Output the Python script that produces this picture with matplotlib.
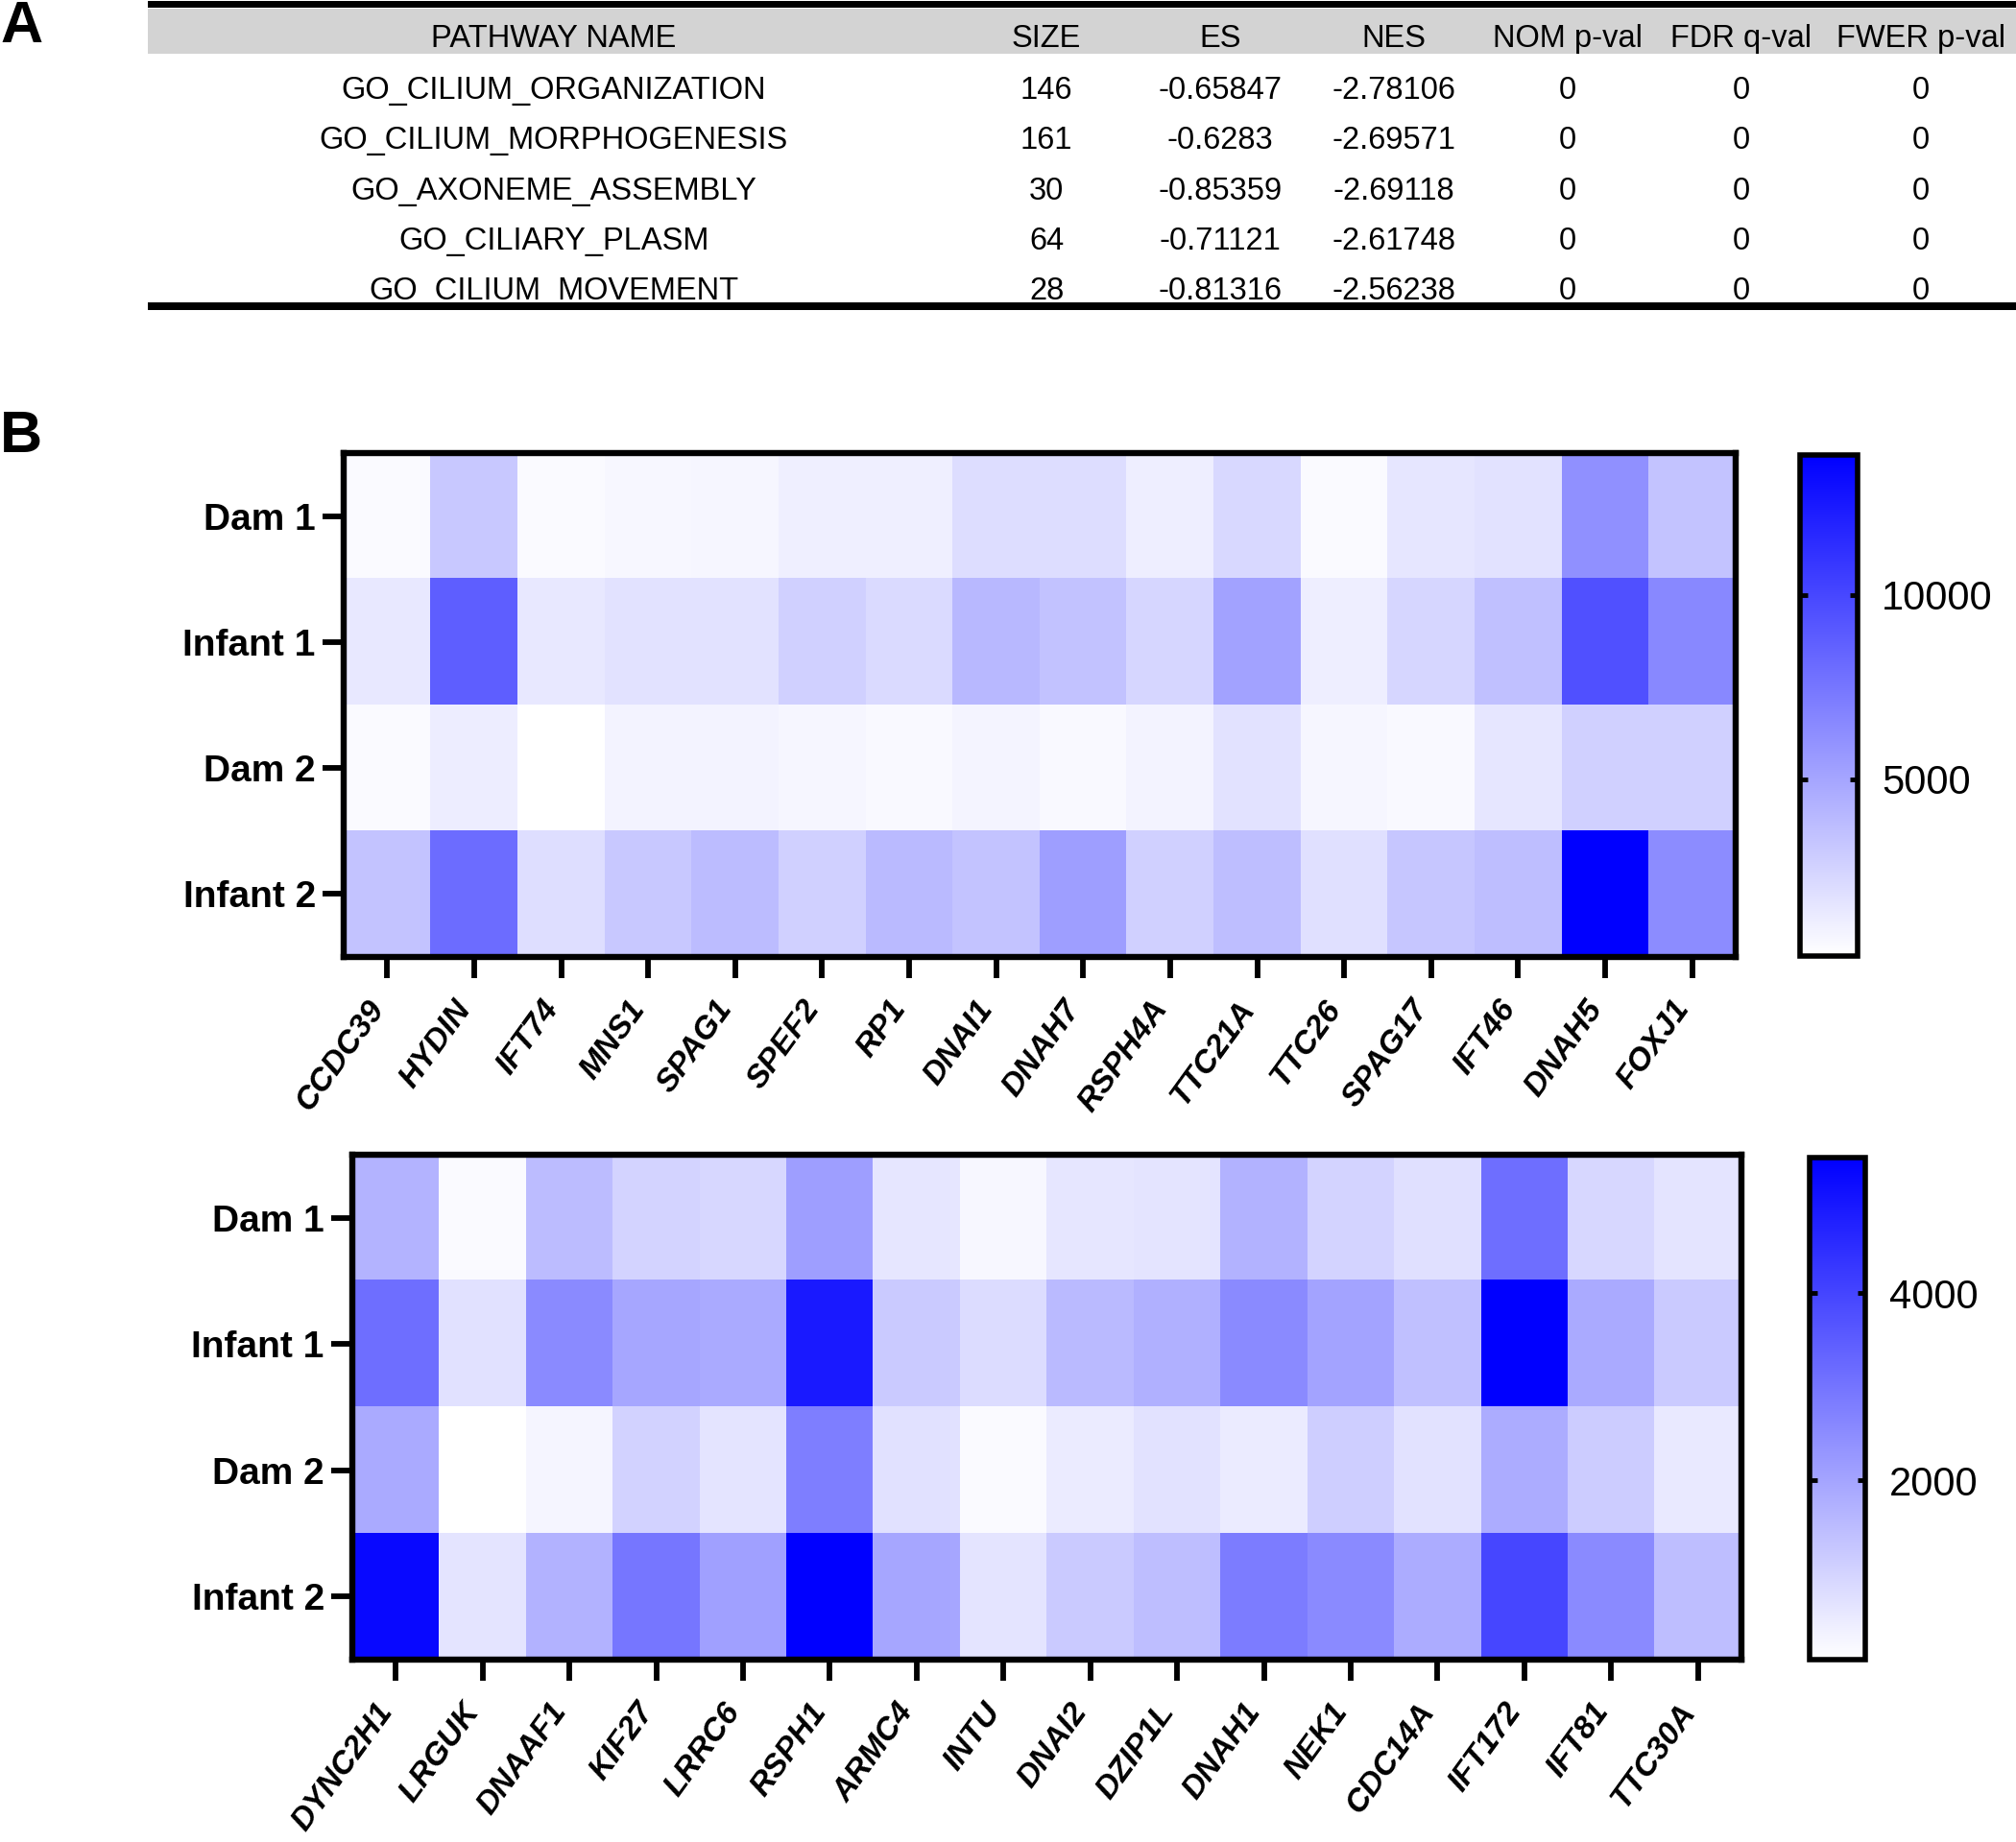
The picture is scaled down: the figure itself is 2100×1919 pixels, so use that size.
import numpy as np
import matplotlib
matplotlib.use("Agg")
import matplotlib.pyplot as plt
from matplotlib.colors import LinearSegmentedColormap
from matplotlib.patches import Rectangle
import matplotlib.transforms as mtransforms

plt.rcParams['font.family'] = ['Liberation Sans', 'DejaVu Sans']

# ---------------- data ----------------
table_headers = ["PATHWAY NAME", "SIZE", "ES", "NES", "NOM p-val", "FDR q-val", "FWER p-val"]
pathways = ["GO_CILIUM_ORGANIZATION", "GO_CILIUM_MORPHOGENESIS", "GO_AXONEME_ASSEMBLY",
            "GO_CILIARY_PLASM", "GO_CILIUM_MOVEMENT"]
sizes = ["146", "161", "30", "64", "28"]
es_vals = ["-0.65847", "-0.6283", "-0.85359", "-0.71121", "-0.81316"]
nes_vals = ["-2.78106", "-2.69571", "-2.69118", "-2.61748", "-2.56238"]
nom_p = ["0", "0", "0", "0", "0"]
fdr_q = ["0", "0", "0", "0", "0"]
fwer_p = ["0", "0", "0", "0", "0"]

samples = ["Dam 1", "Infant 1", "Dam 2", "Infant 2"]

genes_top = ["CCDC39", "HYDIN", "IFT74", "MNS1", "SPAG1", "SPEF2", "RP1", "DNAI1",
             "DNAH7", "RSPH4A", "TTC21A", "TTC26", "SPAG17", "IFT46", "DNAH5", "FOXJ1"]
top_dam1 = [470, 3130, 470, 630, 730, 1050, 1050, 2010, 2010, 1110, 2280, 470, 1530, 1750, 6120, 3350]
top_inf1 = [1430, 8790, 1430, 1750, 1750, 2710, 2170, 3990, 3450, 2390, 5160, 1110, 2390, 3560, 9530, 6550]
top_dam2 = [470, 1160, 250, 890, 890, 730, 520, 790, 520, 890, 1750, 730, 520, 1530, 2710, 2710]
top_inf2 = [3350, 8040, 1960, 3130, 3770, 2710, 3880, 3350, 5370, 2710, 3670, 1850, 3240, 3670, 13800, 6330]
top_range = (200, 13800)
top_cticks = [5000, 10000]

genes_bot = ["DYNC2H1", "LRGUK", "DNAAF1", "KIF27", "LRRC6", "RSPH1", "ARMC4", "INTU",
             "DNAI2", "DZIP1L", "DNAH1", "NEK1", "CDC14A", "IFT172", "IFT81", "TTC30A"]
bot_dam1 = [1660, 190, 1490, 990, 940, 2120, 610, 250, 610, 650, 1700, 990, 750, 3130, 940, 650]
bot_inf1 = [3135, 730, 2540, 1950, 1870, 4900, 1200, 820, 1540, 1740, 2540, 2000, 1410, 5450, 1870, 1200]
bot_dam2 = [1870, 80, 310, 1030, 650, 2800, 730, 185, 520, 690, 520, 1110, 690, 1830, 1150, 560]
bot_inf2 = [5280, 650, 1700, 2960, 2080, 5450, 1950, 650, 1200, 1450, 2840, 2540, 1830, 3980, 2540, 1450]
bot_range = (80, 5450)
bot_cticks = [2000, 4000]

# ---------------- figure ----------------
W, H = 2100, 1919
fig = plt.figure(figsize=(W / 100, H / 100), dpi=100)


def box(x0, y0, x1, y1):
    return [x0 / W, 1 - y1 / H, (x1 - x0) / W, (y1 - y0) / H]


cmap = LinearSegmentedColormap.from_list("wb", ["#FFFFFF", "#0000FF"])

# ---------- Panel A: table ----------
axt = fig.add_axes([0, 0, 1, 1])
axt.set_xlim(0, W)
axt.set_ylim(H, 0)
axt.axis("off")

axt.add_patch(Rectangle((154, 9), W - 154, 47, facecolor="#D3D3D3", edgecolor="none", zorder=1))
axt.add_patch(Rectangle((154, 0.5), W - 154, 7.5, facecolor="black", edgecolor="none", zorder=5))
axt.add_patch(Rectangle((154, 315), W - 154, 8, facecolor="black", edgecolor="none", zorder=5))

col_x = [577, 1090, 1271, 1452, 1633, 1814, 2001]
header_y = 40
row_y = [94, 146, 199, 251, 303]
tfs = 23.5
for cx, h in zip(col_x, table_headers):
    axt.text(cx, header_y, h, ha="center", va="center", fontsize=tfs, zorder=3)
columns = [pathways, sizes, es_vals, nes_vals, nom_p, fdr_q, fwer_p]
for cx, col in zip(col_x, columns):
    for ry, val in zip(row_y, col):
        axt.text(cx, ry, val, ha="center", va="center", fontsize=tfs, zorder=3)

axt.text(0, 28, "A", ha="left", va="center", fontsize=44, fontweight="bold")
axt.text(0, 455, "B", ha="left", va="center", fontsize=44, fontweight="bold")


# ---------- Panel B: heatmaps ----------
def heatmap(rect, crect, rows, genes, vrange, cticks):
    data = np.array(rows, dtype=float)
    ax = fig.add_axes(box(*rect))
    im = ax.imshow(data, cmap=cmap, vmin=vrange[0], vmax=vrange[1], aspect="auto",
                   interpolation="nearest")
    for sp in ax.spines.values():
        sp.set_linewidth(4.6)
    ax.set_yticks(range(len(samples)))
    ax.set_yticklabels(samples, fontsize=28, fontweight="bold")
    ax.set_xticks(range(len(genes)))
    ax.set_xticklabels(genes, fontsize=24, fontweight="bold", fontstyle="italic",
                       rotation=54, ha="right", va="center", rotation_mode="anchor")
    ax.tick_params(axis="both", length=16, width=4.2, color="black")
    ax.tick_params(axis="y", pad=5)
    ax.tick_params(axis="x", pad=19)
    off = mtransforms.ScaledTranslation(-9 / 100, 0, fig.dpi_scale_trans)
    for lab in ax.get_xticklabels():
        lab.set_transform(lab.get_transform() + off)

    cax = fig.add_axes(box(*crect))
    cb = fig.colorbar(im, cax=cax, ticks=cticks)
    cb.outline.set_linewidth(4)
    cax.tick_params(which="major", direction="in", left=True, right=True,
                    labelleft=False, labelright=True, length=6, width=3.5,
                    labelsize=30, pad=18)
    cax.minorticks_off()
    return ax


heatmap((358, 472, 1808, 997), (1875, 474, 1935, 996),
        [top_dam1, top_inf1, top_dam2, top_inf2], genes_top, top_range, top_cticks)
heatmap((367, 1203, 1814, 1729), (1885, 1206, 1943, 1729),
        [bot_dam1, bot_inf1, bot_dam2, bot_inf2], genes_bot, bot_range, bot_cticks)

fig.savefig("out.png", dpi=100)
